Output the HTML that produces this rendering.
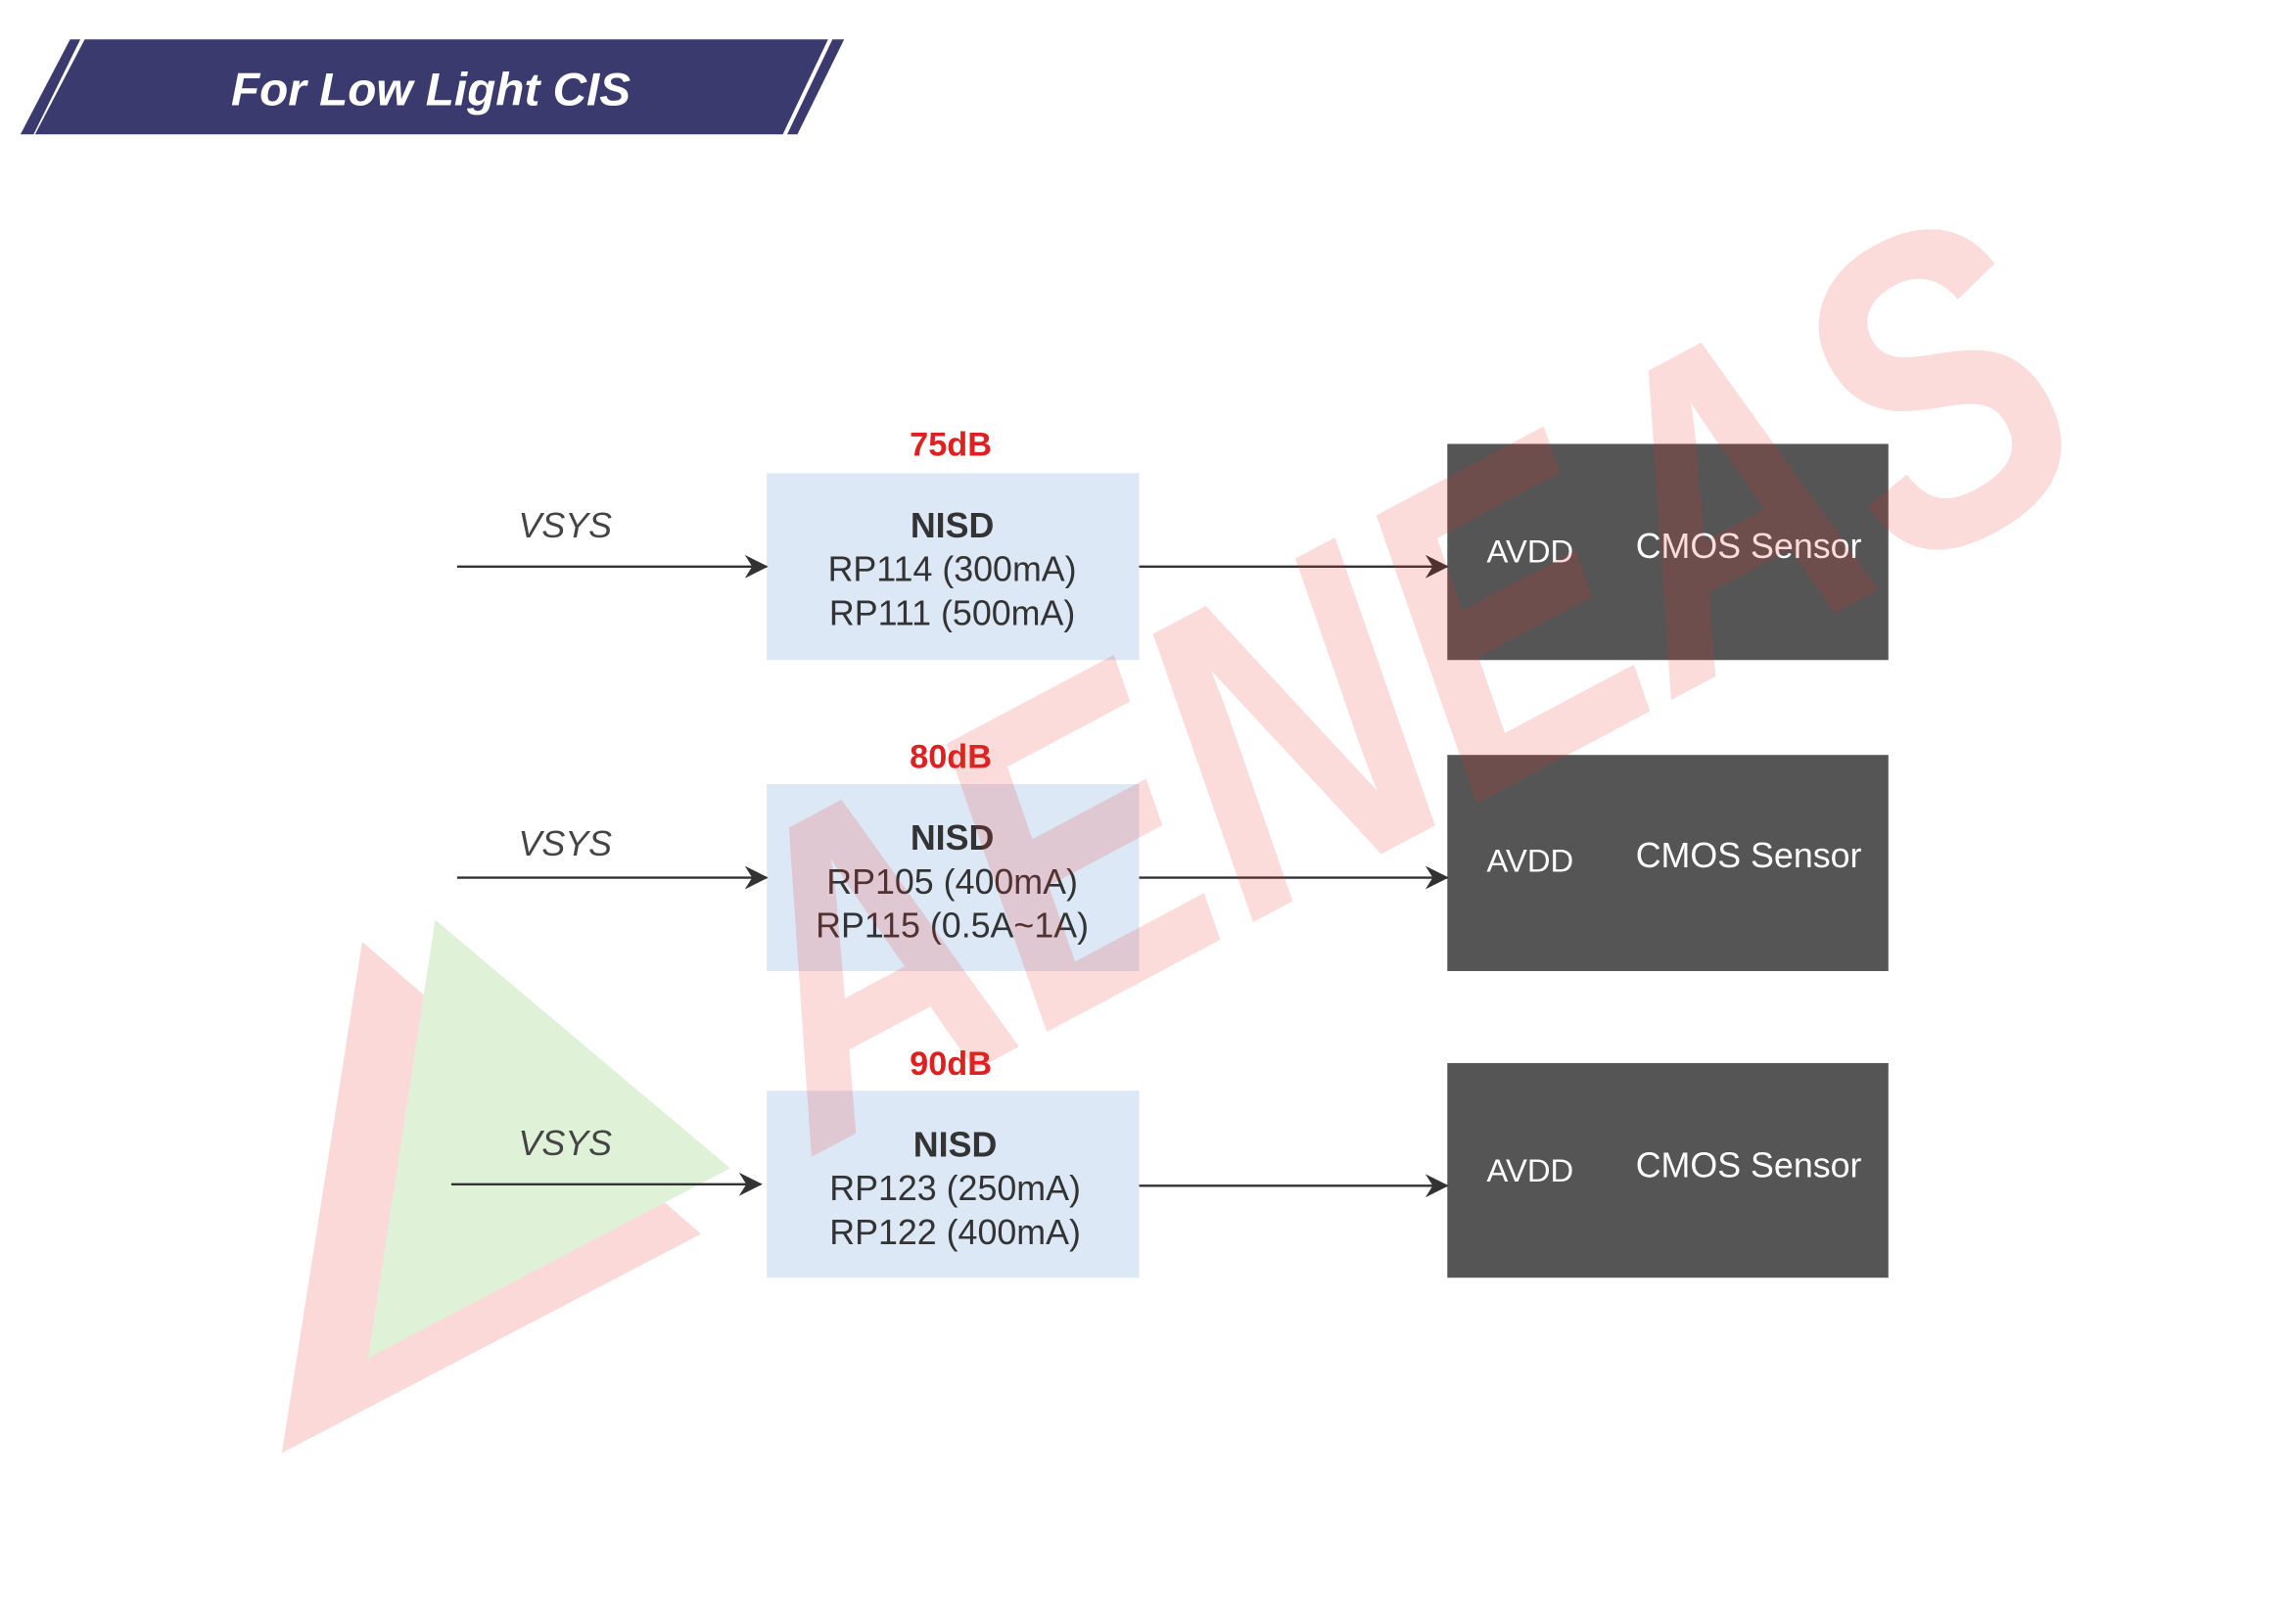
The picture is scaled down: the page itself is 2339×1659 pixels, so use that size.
<!DOCTYPE html>
<html><head><meta charset="utf-8"><style>
html,body{margin:0;padding:0;background:#fff;}
svg{display:block;}
text{font-family:"Liberation Sans",Arial,sans-serif;}
</style></head><body>
<svg width="2339" height="1659" viewBox="0 0 1568 1112.15" xmlns="http://www.w3.org/2000/svg">
<defs>
<marker id="ar" markerWidth="16" markerHeight="16" refX="15" refY="8" orient="auto" markerUnits="userSpaceOnUse">
<path d="M0,0 L16,8 L0,16 L5,8 Z" fill="#333"/></marker>
</defs>
<rect width="1568" height="1112.15" fill="#fff"/>
<!-- watermark triangle (behind) -->
<polygon points="248,645 480,845 193,995" fill="#fcd9d9"/>
<polygon points="298,630 500,800 252,930" fill="#dff2d8"/>
<!-- banner -->
<polygon points="48,27 55,27 23,92 14,92" fill="#3a3a6e"/>
<polygon points="58,27 567,27 536,92 24,92" fill="#3a3a6e"/>
<polygon points="570,27 578,27 546,92 539,92" fill="#3a3a6e"/>
<text x="295" y="72" text-anchor="middle" font-size="32" font-weight="bold" font-style="italic" fill="#fff">For Low Light CIS</text>

<!-- blue boxes -->
<rect x="525" y="324" width="255" height="128" fill="#dce8f5"/>
<rect x="525" y="537" width="255" height="128" fill="#dce8f5"/>
<rect x="525" y="747" width="255" height="128" fill="#dce8f5"/>
<!-- dark boxes -->
<rect x="991" y="304" width="302" height="148" fill="#555"/>
<rect x="991" y="517" width="302" height="148" fill="#555"/>
<rect x="991" y="728" width="302" height="147" fill="#555"/>

<!-- arrows -->
<g stroke="#333" stroke-width="1.6" marker-end="url(#ar)">
<line x1="313" y1="388" x2="525" y2="388"/>
<line x1="313" y1="601" x2="525" y2="601"/>
<line x1="309" y1="811" x2="521" y2="811"/>
<line x1="780" y1="388" x2="991" y2="388"/>
<line x1="780" y1="601" x2="991" y2="601"/>
<line x1="780" y1="812" x2="991" y2="812"/>
</g>

<g font-size="24" font-style="italic" fill="#444">
<text x="355" y="368">VSYS</text>
<text x="355" y="586">VSYS</text>
<text x="355" y="791">VSYS</text>
</g>
<g font-size="23" font-weight="bold" fill="#e02020" text-anchor="middle">
<text x="651" y="312">75dB</text>
<text x="651" y="526">80dB</text>
<text x="651" y="736">90dB</text>
</g>
<g font-size="24" fill="#333" text-anchor="middle">
<text x="652" y="368" font-weight="bold">NISD</text>
<text x="652" y="398">RP114 (300mA)</text>
<text x="652" y="428">RP111 (500mA)</text>
<text x="652" y="582" font-weight="bold">NISD</text>
<text x="652" y="612">RP105 (400mA)</text>
<text x="652" y="642">RP115 (0.5A~1A)</text>
<text x="654" y="792" font-weight="bold">NISD</text>
<text x="654" y="822">RP123 (250mA)</text>
<text x="654" y="852">RP122 (400mA)</text>
</g>
<g font-size="22" fill="#fff">
<text x="1018" y="385">AVDD</text>
<text x="1018" y="597">AVDD</text>
<text x="1018" y="809">AVDD</text>
</g>
<g font-size="24" fill="#fff">
<text x="1120" y="382">CMOS Sensor</text>
<text x="1120" y="594">CMOS Sensor</text>
<text x="1120" y="806">CMOS Sensor</text>
</g>

<text x="0" y="0" font-size="300" font-weight="bold" font-style="italic" fill="rgba(240,40,40,0.17)" transform="translate(560,790) rotate(-28)" textLength="1000" lengthAdjust="spacingAndGlyphs">AENEAS</text>
</svg>
</body></html>
